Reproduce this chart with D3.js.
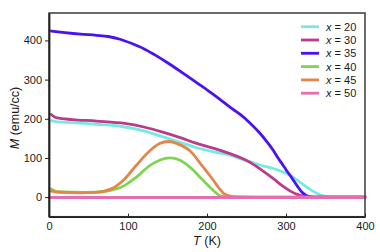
<!DOCTYPE html>
<html>
<head>
<meta charset="utf-8">
<script src="https://cdn.jsdelivr.net/npm/d3@7"></script>
<style>
  body { margin: 0; background: #fff; }
  text { font-family: "Liberation Sans", Arial, sans-serif; fill: #1a1a1a; }
</style>
</head>
<body>
<svg id="chart" width="380" height="252"></svg>
<script>
// temperatures (K) and magnetization (emu/cc)
const series = ['20', '30', '35', '40', '45', '50'];
const colors = ['#74ebe2', '#b93b8c', '#4a12f2', '#7dd64f', '#e3864a', '#e56fae'];

const tX20 = [3, 10, 30, 60, 96, 120, 144, 166, 187, 210, 229, 242, 255, 267, 284, 296, 305, 315, 326, 335, 343, 352, 362, 400];
const mX20 = [195, 192, 190, 186, 179, 169, 154, 140, 126, 115, 107, 98, 90, 82, 73, 64, 56, 42, 26, 14, 6, 1.5, 0, 0];

const tX30 = [3, 6, 10, 30, 60, 96, 120, 144, 166, 187, 210, 229, 242, 255, 267, 284, 296, 305, 314, 322, 330, 340, 400];
const mX30 = [211, 206, 202, 198, 194, 188, 179, 166, 152, 137, 124, 111, 101, 88, 72, 47, 28, 16, 7, 2.5, 0.5, 0, 0];

const tX35 = [3, 20, 40, 60, 75, 90, 105, 120, 134, 150, 170, 190, 204, 220, 233, 242, 255, 267, 276, 284, 290, 296, 300, 305, 310, 315, 320, 325, 330, 340, 400];
const mX35 = [424, 420, 416, 413, 410, 403, 392, 379, 363, 343, 316, 288, 268, 244, 224, 211, 188, 163, 141, 119, 100, 82, 70, 56, 41, 26, 13, 5, 1.5, 0, 0];

const tX40 = [3, 6, 12, 46, 71, 96, 110, 128, 140, 153, 166, 178, 195, 208, 216, 226, 260, 400];
const mX40 = [21, 17, 13, 12, 15, 30, 50, 81, 94, 100, 94, 77, 43, 17, 4, 0, 0, 0];

const tX45 = [3, 10, 40, 60, 79, 96, 110, 128, 140, 151, 163, 178, 195, 208, 216, 222, 234, 260, 400];
const mX45 = [15, 13, 11, 12, 21, 47, 80, 119, 137, 142, 136, 119, 77, 43, 21, 8, 1, 0, 0];

const tX50 = [0, 100, 200, 300, 400];
const mX50 = [-1, -1, -1, -1, -1];

const xTicks = [0, 100, 200, 300, 400];
const yTicks = [0, 100, 200, 300, 400];

const lines = [[tX20, mX20], [tX30, mX30], [tX35, mX35], [tX40, mX40], [tX45, mX45], [tX50, mX50]];

const margin = { top: 13, right: 15, bottom: 35.3, left: 49 };
const width = 380, height = 252;
const svg = d3.select('#chart');

const x = d3.scaleLinear().domain([0, 400]).range([margin.left, width - margin.right]);
const y = d3.scaleLinear().domain([-50, 470]).range([height - margin.bottom, margin.top]);

const line = d3.line()
  .x(d => x(d[0]))
  .y(d => y(d[1]))
  .curve(d3.curveMonotoneX);

const plot = svg.append('g');
lines.forEach(([t, m], i) => {
  plot.append('path')
    .datum(t.map((v, j) => [v, m[j]]))
    .attr('d', line)
    .attr('fill', 'none')
    .attr('stroke', colors[i])
    .attr('stroke-width', 2.8)
    .attr('stroke-linejoin', 'round')
    .attr('stroke-linecap', 'round');
});

// frame
svg.append('rect')
  .attr('x', x(0)).attr('y', y(470))
  .attr('width', x(400) - x(0)).attr('height', y(-50) - y(470))
  .attr('fill', 'none').attr('stroke', '#3a3a3a').attr('stroke-width', 1.5);

// x axis, ticks pointing in
const xAxis = svg.append('g')
  .attr('transform', `translate(0,${ y(-50) })`)
  .call(d3.axisBottom(x).tickValues(xTicks).tickSizeInner(-3).tickSizeOuter(0).tickPadding(6));
xAxis.select('.domain').attr('stroke', '#222').attr('stroke-width', 1.5);
xAxis.selectAll('.tick line').attr('stroke', '#222');
xAxis.selectAll('text').attr('font-size', 11).style('font-family', 'Liberation Sans, Arial, sans-serif').attr('fill', '#1a1a1a');

// y axis, ticks pointing out
const yAxis = svg.append('g')
  .attr('transform', `translate(${ x(0) },0)`)
  .call(d3.axisLeft(y).tickValues(yTicks).tickSizeInner(4).tickSizeOuter(0).tickPadding(3));
yAxis.select('.domain').attr('stroke', '#222').attr('stroke-width', 1.8);
yAxis.selectAll('.tick line').attr('stroke', '#222');
yAxis.selectAll('text').attr('font-size', 11).style('font-family', 'Liberation Sans, Arial, sans-serif').attr('fill', '#1a1a1a');

// axis titles
const xt = svg.append('text')
  .attr('x', 207).attr('y', 245)
  .attr('text-anchor', 'middle').attr('font-size', 12.5);
xt.append('tspan').attr('font-style', 'italic').text('T');
xt.append('tspan').text(' (K)');

const yt = svg.append('text')
  .attr('transform', 'translate(19,118) rotate(-90)')
  .attr('text-anchor', 'middle').attr('font-size', 12.5);
yt.append('tspan').attr('font-style', 'italic').text('M');
yt.append('tspan').text(' (emu/cc)');

// legend
const legend = svg.append('g');
series.forEach((s, i) => {
  const ly = 26.7 + i * 13.3;
  legend.append('line')
    .attr('x1', 301).attr('x2', 319).attr('y1', ly).attr('y2', ly)
    .attr('stroke', colors[i]).attr('stroke-width', 2.8);
  const t = legend.append('text')
    .attr('x', 326).attr('y', ly + 4).attr('font-size', 11);
  t.append('tspan').attr('font-style', 'italic').text('x');
  t.append('tspan').text(' = ' + s);
});
</script>
</body>
</html>
